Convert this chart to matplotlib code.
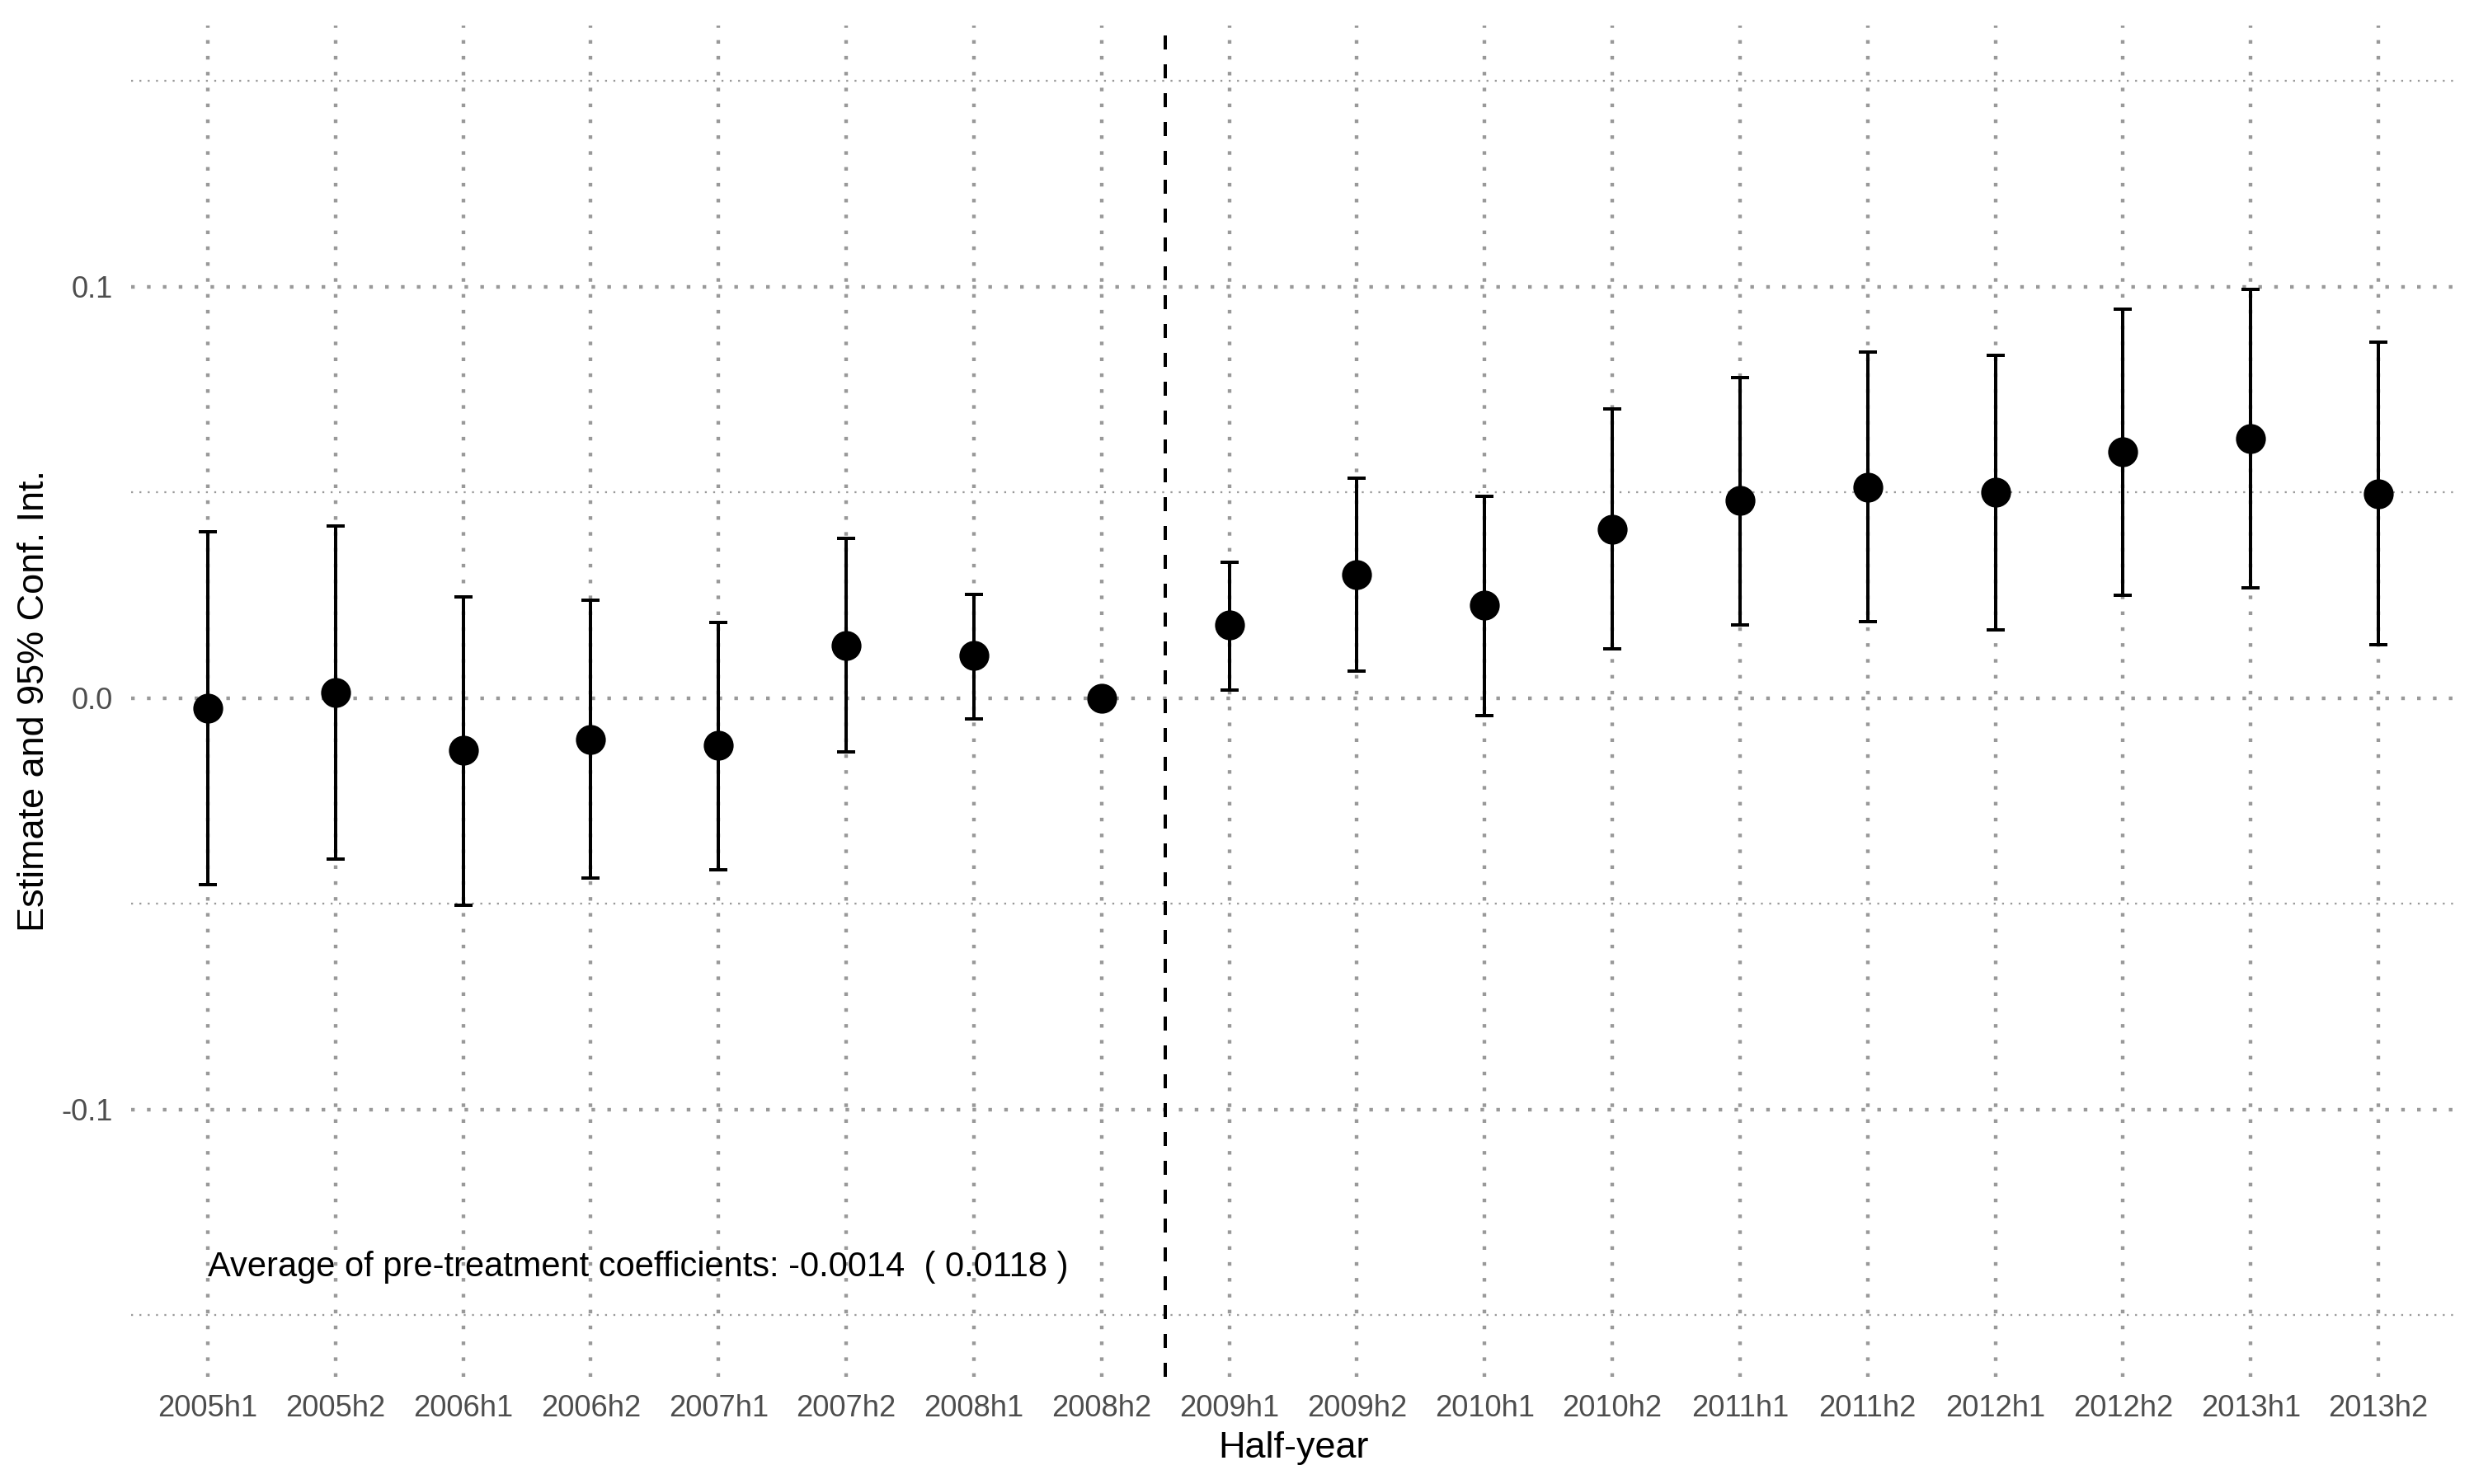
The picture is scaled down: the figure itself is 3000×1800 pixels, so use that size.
import numpy as np
import matplotlib
matplotlib.use('Agg')
import matplotlib.pyplot as plt

plt.rcParams['font.family'] = ['Liberation Sans', 'DejaVu Sans']
plt.rcParams['axes.unicode_minus'] = False

# Half-year periods
periods = ['2005h1', '2005h2', '2006h1', '2006h2', '2007h1', '2007h2',
           '2008h1', '2008h2', '2009h1', '2009h2', '2010h1', '2010h2',
           '2011h1', '2011h2', '2012h1', '2012h2', '2013h1', '2013h2']

# Point estimates and 95% CI bounds (2008h2 is the reference period)
estimate = [-0.0024, 0.0013, -0.0127, -0.0100, -0.0115, 0.0127, 0.0104, 0.0,
            0.0177, 0.0300, 0.0226, 0.0410, 0.0480, 0.0513, 0.0501, 0.0598,
            0.0631, 0.0497]
ci_low = [-0.0453, -0.0392, -0.0503, -0.0438, -0.0418, -0.0130, -0.0050, np.nan,
          0.0019, 0.0065, -0.0042, 0.0119, 0.0177, 0.0186, 0.0166, 0.0251,
          0.0268, 0.0130]
ci_high = [0.0405, 0.0419, 0.0247, 0.0238, 0.0184, 0.0388, 0.0253, np.nan,
           0.0330, 0.0534, 0.0490, 0.0703, 0.0780, 0.0841, 0.0834, 0.0946,
           0.0993, 0.0865]

y_ticks = [-0.1, 0.0, 0.1]
y_tick_labels = ['-0.1', '0.0', '0.1']
y_minor = [-0.15, -0.05, 0.05, 0.15]

note = 'Average of pre-treatment coefficients: -0.0014  ( 0.0118 )'

x = np.arange(len(periods))
est = np.array(estimate)
err = np.array([est - np.array(ci_low), np.array(ci_high) - est])

fig, ax = plt.subplots(figsize=(10, 6), dpi=300)
fig.subplots_adjust(left=159 / 3000, right=2977 / 3000,
                    bottom=130 / 1800, top=1 - 31 / 1800)

grid_col = '#999999'
dots = (0, (1, 3.4))

# Grid lines
for yy in y_ticks:
    ax.axhline(yy, color=grid_col, lw=1.05, linestyle=dots, zorder=0)
for yy in y_minor:
    ax.axhline(yy, color=grid_col, lw=0.55, linestyle=dots, zorder=0)
for xx in x:
    ax.axvline(xx, color=grid_col, lw=1.05, linestyle=dots, zorder=0)

# Treatment line
ax.axvline(7.5, color='black', lw=0.96, linestyle=(0, (4.25, 4.5)), zorder=1)

ax.errorbar(x, est, yerr=err, fmt='o', color='black', ecolor='black',
            markersize=7.7, elinewidth=0.96, capsize=2.76, capthick=0.96,
            zorder=3)

ax.text(0, -0.1405, note, ha='left', va='baseline', fontsize=10, color='black')

ax.set_xlim(-0.6, len(periods) - 1 + 0.6)
ax.set_ylim(-0.165, 0.1635)
ax.set_xticks(x)
ax.set_xticklabels(periods)
ax.set_yticks(y_ticks)
ax.set_yticklabels(y_tick_labels)
ax.tick_params(axis='both', length=0, labelsize=8.7, labelcolor='#4D4D4D')
ax.tick_params(axis='x', pad=5)
ax.tick_params(axis='y', pad=5.3)

for s in ax.spines.values():
    s.set_visible(False)

ax.set_xlabel('Half-year', fontsize=10.8, color='black')
ax.set_ylabel('Estimate and 95% Conf. Int.', fontsize=10.8, color='black')
ax.xaxis.set_label_coords(0.5, (32 - 130) / 1639)
ax.xaxis.label.set_verticalalignment('baseline')
ax.yaxis.set_label_coords((53 - 159) / 2818, 0.5)
ax.yaxis.label.set_verticalalignment('baseline')

plt.savefig('out.png', dpi=300, facecolor='white')
